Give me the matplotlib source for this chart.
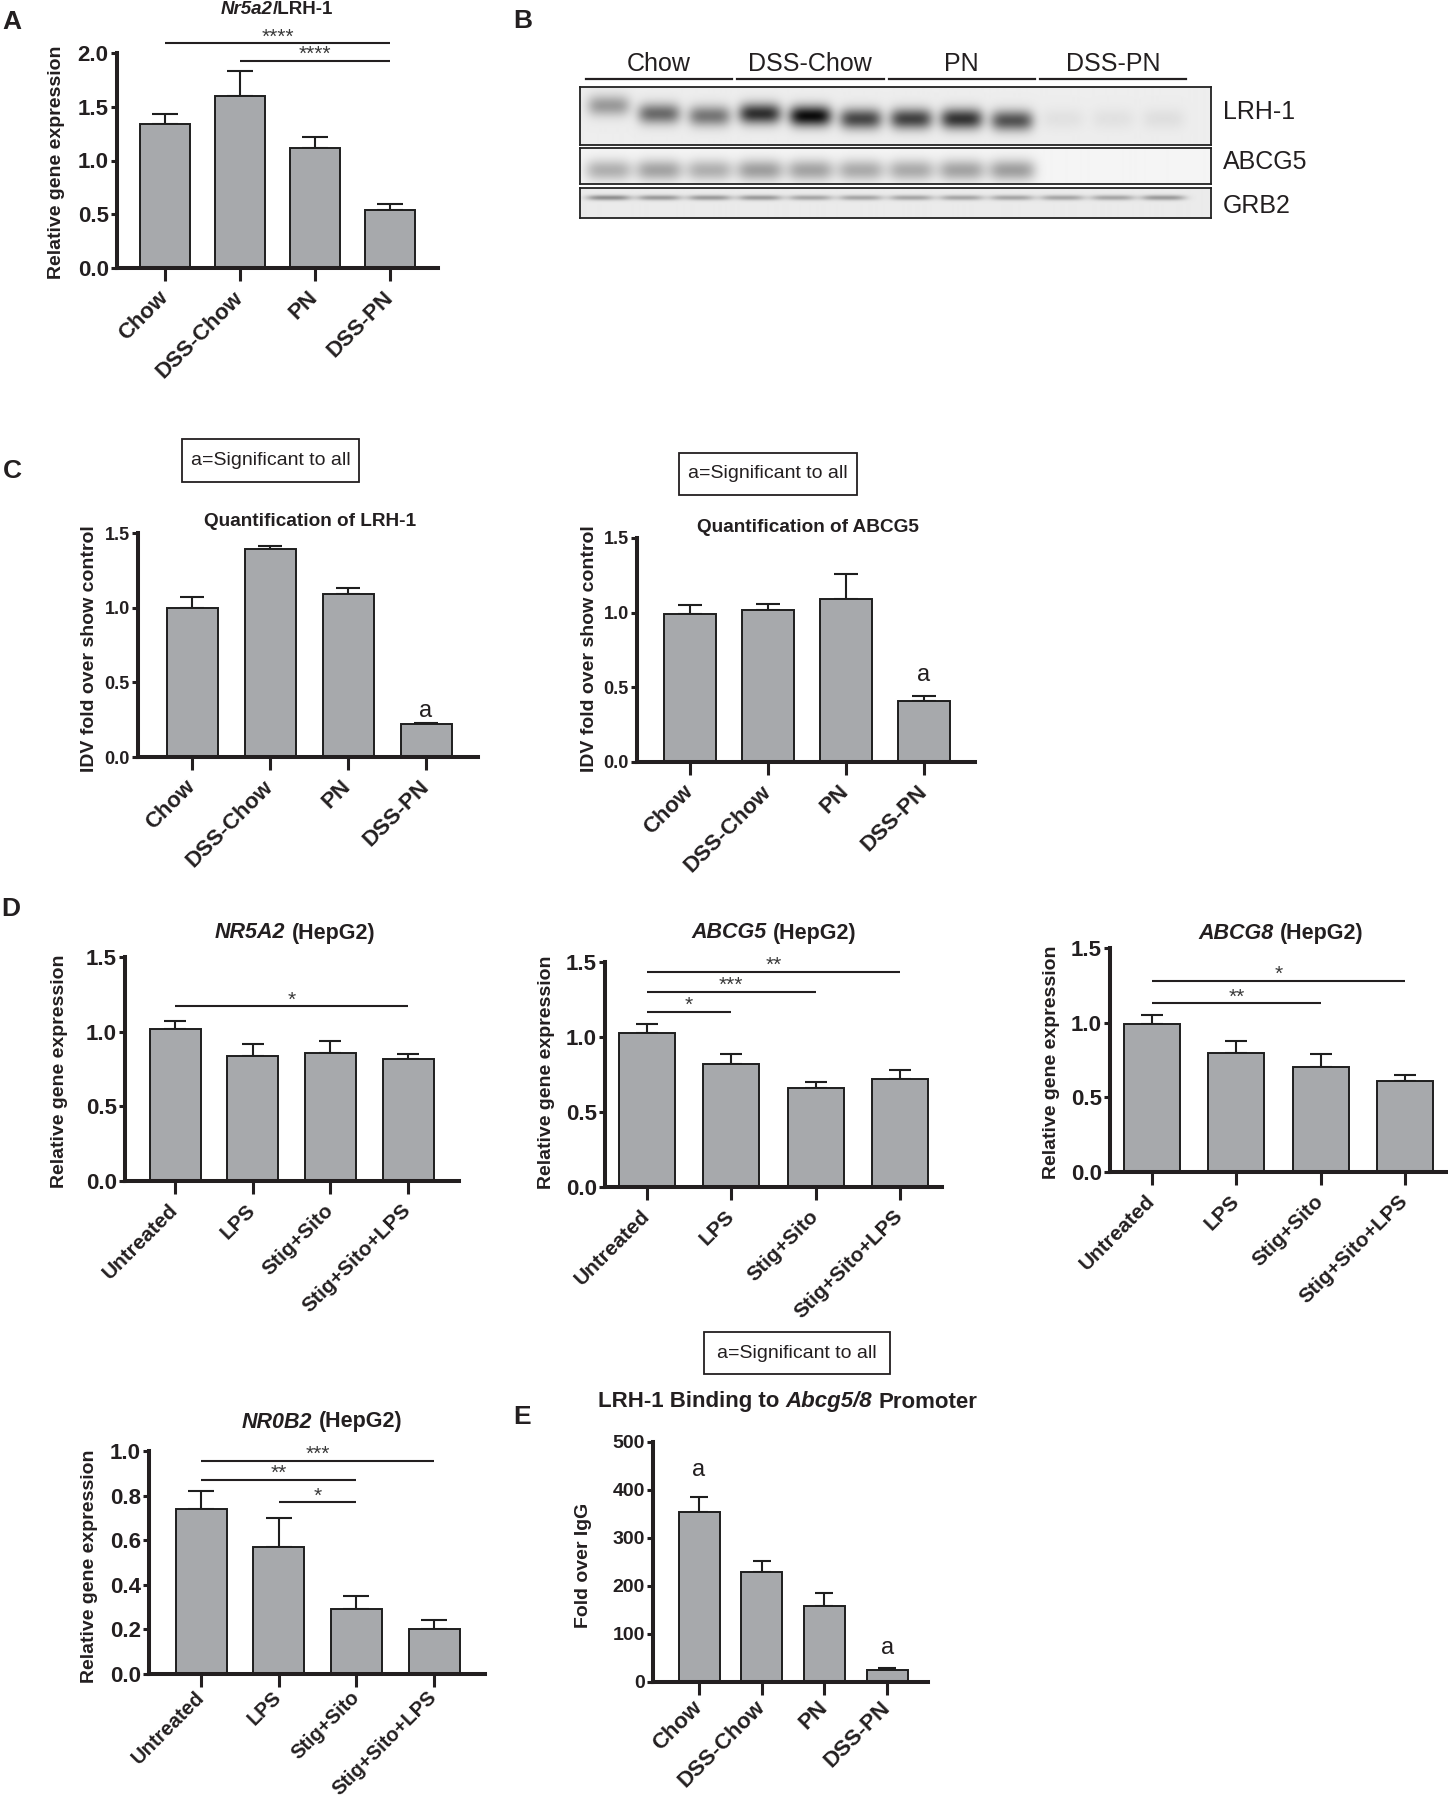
import numpy as np
import matplotlib
matplotlib.use('Agg')
import matplotlib.pyplot as plt
from matplotlib.patches import Rectangle
from matplotlib.transforms import blended_transform_factory

plt.rcParams['font.family'] = ['Liberation Sans', 'DejaVu Sans']

W, H = 1448, 1800
BAR = '#a7a9ac'
EDGE = '#1e1e1e'
INK = '#231f20'

# ---------------- data ----------------
diet_groups = ['Chow', 'DSS-Chow', 'PN', 'DSS-PN']
treatments = ['Untreated', 'LPS', 'Stig+Sito', 'Stig+Sito+LPS']

# A: Nr5a2/LRH-1 mRNA (mean, mean+SEM)
nr5a2_mean = [1.34, 1.60, 1.12, 0.54]
nr5a2_top = [1.43, 1.83, 1.22, 0.60]
nr5a2_sig = [(0, 3, 2.09, '****'), (1, 3, 1.93, '****')]

# B: western blot band darkness, 12 lanes (3 per group)
blot_lrh1 = [0.35, 0.55, 0.50, 0.80, 0.95, 0.70, 0.72, 0.78, 0.65, 0.05, 0.05, 0.06]
blot_abcg5 = [0.28, 0.33, 0.28, 0.35, 0.33, 0.30, 0.30, 0.33, 0.35, 0.0, 0.0, 0.0]
blot_grb2 = [0.40, 0.35, 0.35, 0.35, 0.30, 0.30, 0.30, 0.30, 0.30, 0.30, 0.30, 0.35]

# C: densitometry
lrh1_idv_mean = [1.00, 1.39, 1.09, 0.22]
lrh1_idv_top = [1.07, 1.41, 1.13, 0.23]
lrh1_idv_a = [(3, 0.31)]
abcg5_idv_mean = [0.99, 1.02, 1.09, 0.41]
abcg5_idv_top = [1.05, 1.06, 1.26, 0.44]
abcg5_idv_a = [(3, 0.58)]

# D: HepG2 qPCR
hep_nr5a2_mean = [1.02, 0.84, 0.86, 0.82]
hep_nr5a2_top = [1.07, 0.92, 0.94, 0.85]
hep_nr5a2_sig = [(0, 3, 1.17, '*')]
hep_abcg5_mean = [1.03, 0.82, 0.66, 0.72]
hep_abcg5_top = [1.09, 0.89, 0.70, 0.78]
hep_abcg5_sig = [(0, 1, 1.17, '*'), (0, 2, 1.30, '***'), (0, 3, 1.435, '**')]
hep_abcg8_mean = [0.99, 0.80, 0.70, 0.61]
hep_abcg8_top = [1.05, 0.88, 0.79, 0.65]
hep_abcg8_sig = [(0, 2, 1.13, '**'), (0, 3, 1.28, '*')]
hep_nr0b2_mean = [0.74, 0.57, 0.29, 0.20]
hep_nr0b2_top = [0.82, 0.70, 0.35, 0.24]
hep_nr0b2_sig = [(0, 3, 0.957, '***'), (0, 2, 0.87, '**'), (1, 2, 0.77, '*')]

# E: ChIP
chip_mean = [354, 230, 159, 26]
chip_top = [385, 253, 186, 30]
chip_a = [(0, 442), (3, 70)]

fig = plt.figure(figsize=(W / 100, H / 100), dpi=100)


def ftext(x, y, s, **kw):
    return fig.text(x / W, 1 - y / H, s, **kw)


def to_axes(ax, x, y):
    p = ax.get_position()
    return ((x / W - p.x0) / p.width, ((1 - y / H) - p.y0) / p.height)


def rich(xc, y, parts, size):
    # parts: list of (text, style); a space gap is put between parts
    r = fig.canvas.get_renderer()
    objs = [ftext(0, y, s, fontsize=size, fontweight='bold', fontstyle=st,
                  va='center', ha='left', color=INK) for s, st in parts]
    ws = [t.get_window_extent(r).width for t in objs]
    gap = 0.28 * size * 100 / 72
    gaps = [gap if parts[k + 1][0][0] not in '/' and parts[k][0][-1] != '/' else 0
            for k in range(len(parts) - 1)] + [0]
    x = xc - (sum(ws) + sum(gaps)) / 2
    for t, w, g in zip(objs, ws, gaps):
        t.set_x(x / W)
        x += w + g


def bar_panel(L, R, top, bottom, ymax, step, c0, d, bw, cats, mean, upper,
              tick_fs, cat_fs, cap, fmt='%.1f', pad=10):
    ax = fig.add_axes([L / W, 1 - bottom / H, (R - L) / W, (bottom - top) / H])
    x = np.arange(len(cats))
    mean = np.asarray(mean, float)
    upper = np.asarray(upper, float)
    ax.bar(x, mean, width=bw / d, color=BAR, edgecolor=EDGE, linewidth=1.4, zorder=2)
    ax.errorbar(x, mean, yerr=[np.zeros_like(mean), upper - mean], fmt='none',
                ecolor=EDGE, elinewidth=1.5, capsize=cap, capthick=1.5, zorder=1)
    ax.set_xlim((L - c0) / d, (R - c0) / d)
    ax.set_ylim(0, ymax)
    ax.set_yticks(np.arange(0, ymax + step / 2, step))
    ax.set_yticklabels([fmt % v for v in np.arange(0, ymax + step / 2, step)],
                       fontsize=tick_fs, fontweight='bold', color=INK)
    ax.set_xticks(x)
    ax.set_xticklabels(cats, rotation=45, ha='right', va='center',
                       rotation_mode='anchor', fontsize=cat_fs, fontweight='bold', color=INK)
    for s in ['top', 'right']:
        ax.spines[s].set_visible(False)
    for s in ['left', 'bottom']:
        ax.spines[s].set_linewidth(2.9)
        ax.spines[s].set_color(INK)
    ax.tick_params(axis='y', length=4, width=2.2, pad=2, color=INK)
    ax.tick_params(axis='x', length=9, width=2.2, pad=pad, color=INK)
    ax.set_facecolor('none')
    return ax


def ylab(ax, text, x, y, fs=14):
    ax.set_ylabel(text, fontsize=fs, fontweight='bold', va='center', ha='center', color=INK)
    ax.yaxis.set_label_coords(*to_axes(ax, x, y))


def add_sig(ax, pairs, fs=15):
    for i, j, y, lab in pairs:
        ax.plot([i, j], [y, y], color=INK, lw=1.5, clip_on=False, solid_capstyle='butt')
        ax.annotate(lab, xy=((i + j) / 2, y), xytext=(0, 0.5), textcoords='offset points',
                    ha='center', va='baseline', fontsize=fs, color='#3a3a3a',
                    annotation_clip=False)


def add_a(ax, marks, fs=17):
    for i, y in marks:
        ax.text(i, y, 'a', ha='center', va='center', fontsize=fs, color=INK, clip_on=False)


def sig_box(x0, y0, x1, y1, fs=14):
    fig.add_artist(Rectangle((x0 / W, 1 - y1 / H), (x1 - x0) / W, (y1 - y0) / H,
                             transform=fig.transFigure, fill=False, ec=INK, lw=1.3))
    ftext((x0 + x1) / 2, (y0 + y1) / 2, 'a=Significant to all', fontsize=fs,
          ha='center', va='center', color=INK)


# ---------------- panel letters ----------------
for lab, x, y in [('A', 12, 22), ('B', 523, 21), ('C', 12, 471), ('D', 11, 909), ('E', 522, 1417)]:
    ftext(x, y, lab, fontsize=19, fontweight='bold', ha='center', va='center', color=INK)

# ---------------- A ----------------
axA = bar_panel(117, 438, 53, 268, 2.0, 0.5, 165, 75, 50, diet_groups,
                nr5a2_mean, nr5a2_top, 16, 16, 9.5)
ylab(axA, 'Relative gene expression', 57, 162)
add_sig(axA, nr5a2_sig)
rich(277, 10, [('Nr5a2', 'italic'), ('/LRH-1', 'normal')], 13.5)

# ---------------- B (western blot) ----------------
xs = np.linspace(-0.5625, 11.9375, 632)
lrh1_row = [0.32, 0.46, 0.50, 0.46, 0.50, 0.55, 0.55, 0.55, 0.58, 0.55, 0.55, 0.55]


def blot_strip(top, bottom, dark, rows, sy, bg, sx=0.42):
    ax = fig.add_axes([580 / W, 1 - bottom / H, (1211 - 580) / W, (bottom - top) / H])
    ys = np.linspace(0, 1, int(bottom - top) * 2)
    X, Y = np.meshgrid(xs, ys)
    img = np.full(X.shape, bg)
    for i, (dv, rv) in enumerate(zip(dark, rows)):
        img -= bg * dv * np.exp(-((X - i) / sx) ** 4) * np.exp(-((Y - rv) / sy) ** 2)
    ax.imshow(np.clip(img, 0, 1), cmap='gray', vmin=0, vmax=1,
              extent=(xs[0], xs[-1], 1, 0), aspect='auto', interpolation='bilinear')
    ax.set_xlim(xs[0], xs[-1])
    ax.set_ylim(1, 0)
    ax.set_xticks([])
    ax.set_yticks([])
    for s in ax.spines.values():
        s.set_linewidth(1.3)
        s.set_color('#222222')
    return ax


axB1 = blot_strip(87, 145, blot_lrh1, lrh1_row, 0.18, 0.93)
axB2 = blot_strip(148, 184, blot_abcg5, [0.62] * 12, 0.30, 0.96, sx=0.46)
axB3 = blot_strip(188, 218, blot_grb2, [0.32] * 12, 0.09, 0.92, sx=0.44)

tr = blended_transform_factory(axB1.transData, axB1.transAxes)
y_line = to_axes(axB1, 0, 79)[1]
y_lab = to_axes(axB1, 0, 64)[1]
for g, name in enumerate(diet_groups):
    axB1.plot([3 * g - 0.45, 3 * g + 2.45], [y_line, y_line], color=INK, lw=1.6,
              transform=tr, clip_on=False)
    axB1.text(3 * g + 1, y_lab, name, transform=tr, ha='center', va='center',
              fontsize=18, color=INK)
for name, y in [('LRH-1', 112), ('ABCG5', 162), ('GRB2', 206)]:
    ftext(1223, y, name, fontsize=18, ha='left', va='center', color=INK)

# ---------------- C ----------------
sig_box(182, 439, 359, 482)
sig_box(679, 453, 857, 495)
axC1 = bar_panel(138, 478, 533, 757, 1.5, 0.5, 192, 78, 51, diet_groups,
                 lrh1_idv_mean, lrh1_idv_top, 13, 16, 8.5)
ylab(axC1, 'IDV fold over show control', 90, 649)
add_a(axC1, lrh1_idv_a)
ftext(310, 522, 'Quantification of LRH-1', fontsize=13.7, fontweight='bold',
      ha='center', va='center', color=INK)

axC2 = bar_panel(637, 975, 538, 762, 1.5, 0.5, 690, 78, 52, diet_groups,
                 abcg5_idv_mean, abcg5_idv_top, 13, 16, 8.5)
ylab(axC2, 'IDV fold over show control', 590, 649)
add_a(axC2, abcg5_idv_a)
ftext(808, 528, 'Quantification of ABCG5', fontsize=13.7, fontweight='bold',
      ha='center', va='center', color=INK)

# ---------------- D ----------------
axD1 = bar_panel(125, 459, 957, 1181, 1.5, 0.5, 175, 77.7, 51, treatments,
                 hep_nr5a2_mean, hep_nr5a2_top, 16, 15, 8)
ylab(axD1, 'Relative gene expression', 60, 1071)
add_sig(axD1, hep_nr5a2_sig)
rich(295, 933, [('NR5A2', 'italic'), ('(HepG2)', 'normal')], 15.5)

axD2 = bar_panel(605, 942, 962, 1187, 1.5, 0.5, 647, 84.3, 56, treatments,
                 hep_abcg5_mean, hep_abcg5_top, 16, 15, 8)
ylab(axD2, 'Relative gene expression', 546, 1072)
add_sig(axD2, hep_abcg5_sig)
rich(774, 933, [('ABCG5', 'italic'), ('(HepG2)', 'normal')], 15.5)

axD3 = bar_panel(1110, 1448, 948, 1172, 1.5, 0.5, 1152, 84.3, 56, treatments,
                 hep_abcg8_mean, hep_abcg8_top, 16, 15, 8)
ylab(axD3, 'Relative gene expression', 1052, 1062)
add_sig(axD3, hep_abcg8_sig)
rich(1281, 934, [('ABCG8', 'italic'), ('(HepG2)', 'normal')], 15.5)

axD4 = bar_panel(149, 485, 1451, 1674, 1.0, 0.2, 201, 77.7, 51, treatments,
                 hep_nr0b2_mean, hep_nr0b2_top, 16, 14.5, 9.5, pad=6)
ylab(axD4, 'Relative gene expression', 90, 1566)
add_sig(axD4, hep_nr0b2_sig)
rich(322, 1422, [('NR0B2', 'italic'), ('(HepG2)', 'normal')], 15.5)

# ---------------- E ----------------
sig_box(704, 1332, 890, 1374)
axE = bar_panel(653, 928, 1442, 1682, 500, 100, 699, 62.7, 41, diet_groups,
                chip_mean, chip_top, 14, 16, 6.5, fmt='%d', pad=7)
ylab(axE, 'Fold over IgG', 583, 1565)
add_a(axE, chip_a)
rich(788, 1402, [('LRH-1 Binding to', 'normal'), ('Abcg5/8', 'italic'),
                 ('Promoter', 'normal')], 16)

fig.savefig('out.png', dpi=100, facecolor='white')
